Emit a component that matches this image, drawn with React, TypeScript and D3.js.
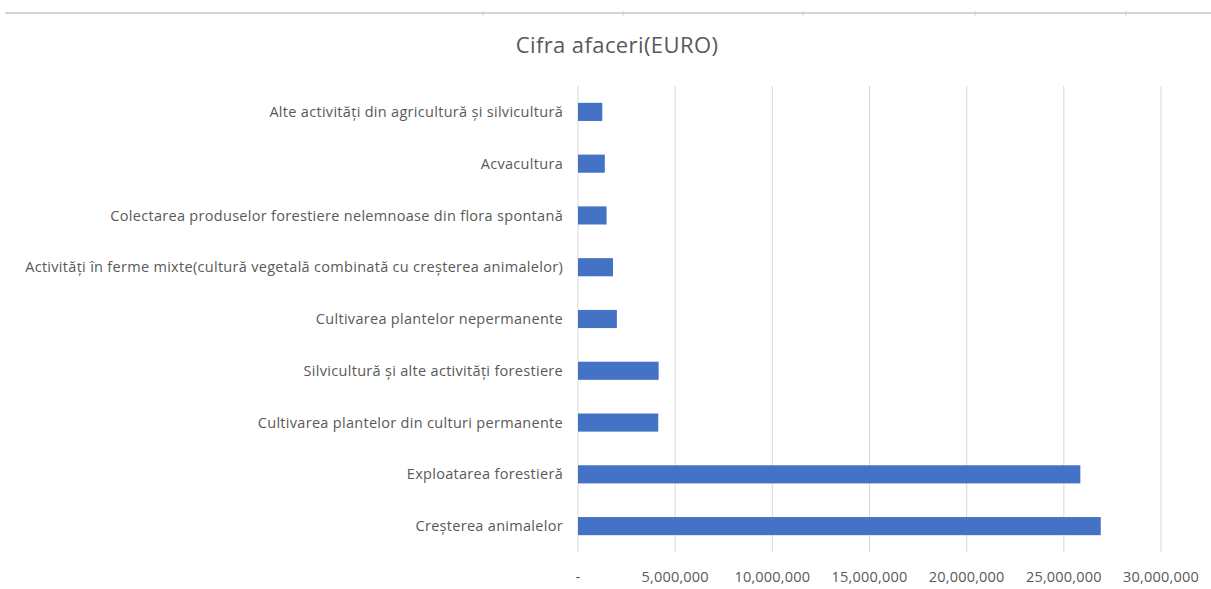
import React from "react";
import * as d3 from "d3";

const categories = [
  "Alte activități din agricultură și silvicultură",
  "Acvacultura",
  "Colectarea produselor forestiere nelemnoase din flora spontană",
  "Activități în ferme mixte(cultură vegetală combinată cu creșterea animalelor)",
  "Cultivarea plantelor nepermanente",
  "Silvicultură și alte activități forestiere",
  "Cultivarea plantelor din culturi permanente",
  "Exploatarea forestieră",
  "Creșterea animalelor",
];
const values = [1250000, 1380000, 1470000, 1800000, 2000000, 4150000, 4130000, 25850000, 26900000];
const xTicks = [0, 5000000, 10000000, 15000000, 20000000, 25000000, 30000000];
const title = "Cifra afaceri(EURO)";

const W = 1211;
const H = 589;
const FONT = "'Open Sans', 'Liberation Sans', sans-serif";

export default function App() {
  const x = d3.scaleLinear().domain([0, 30000000]).range([578, 1161]);
  const y = d3.scaleBand<string>().domain(categories).range([86, 552]).paddingInner(0.65).paddingOuter(0.325);
  const fmt = (v: number) => (v === 0 ? "-" : d3.format(",")(v));
  const topTicks = [483, 623, 803, 975, 1126];
  return (
    <svg width={W} height={H} style={{ position: "absolute", left: 0, top: 0, background: "#fff" }}>
      <rect x={0} y={0} width={W} height={H} fill="#fff" />
      <line x1={5} x2={W} y1={13} y2={13} stroke="#d4d4d4" strokeWidth={2} />
      {topTicks.map((t, i) => (
        <line key={i} x1={t} x2={t} y1={11} y2={16} stroke="#cfcfcf" strokeWidth={1} />
      ))}
      <text x={617} y={53} textAnchor="middle" fontFamily={FONT} fontSize={22} letterSpacing={0.4} fill="#595959">
        {title}
      </text>
      {xTicks.map((t) => (
        <g key={t}>
          <line x1={x(t)} x2={x(t)} y1={86} y2={552} stroke="#d9d9d9" strokeWidth={1} />
          <text x={x(t)} y={582} textAnchor="middle" fontFamily={FONT} fontSize={14.5} letterSpacing={0.2} fill="#595959">
            {fmt(t)}
          </text>
        </g>
      ))}
      {categories.map((c, i) => (
        <g key={c}>
          <rect x={x(0)} y={y(c)} width={x(values[i]) - x(0)} height={y.bandwidth()} fill="#4472C4" />
          <text
            x={563}
            y={(y(c) as number) + y.bandwidth() / 2}
            dy="0.35em"
            textAnchor="end"
            fontFamily={FONT}
            fontSize={14.5}
            letterSpacing={0.3}
            fill="#595959"
          >
            {c}
          </text>
        </g>
      ))}
    </svg>
  );
}
